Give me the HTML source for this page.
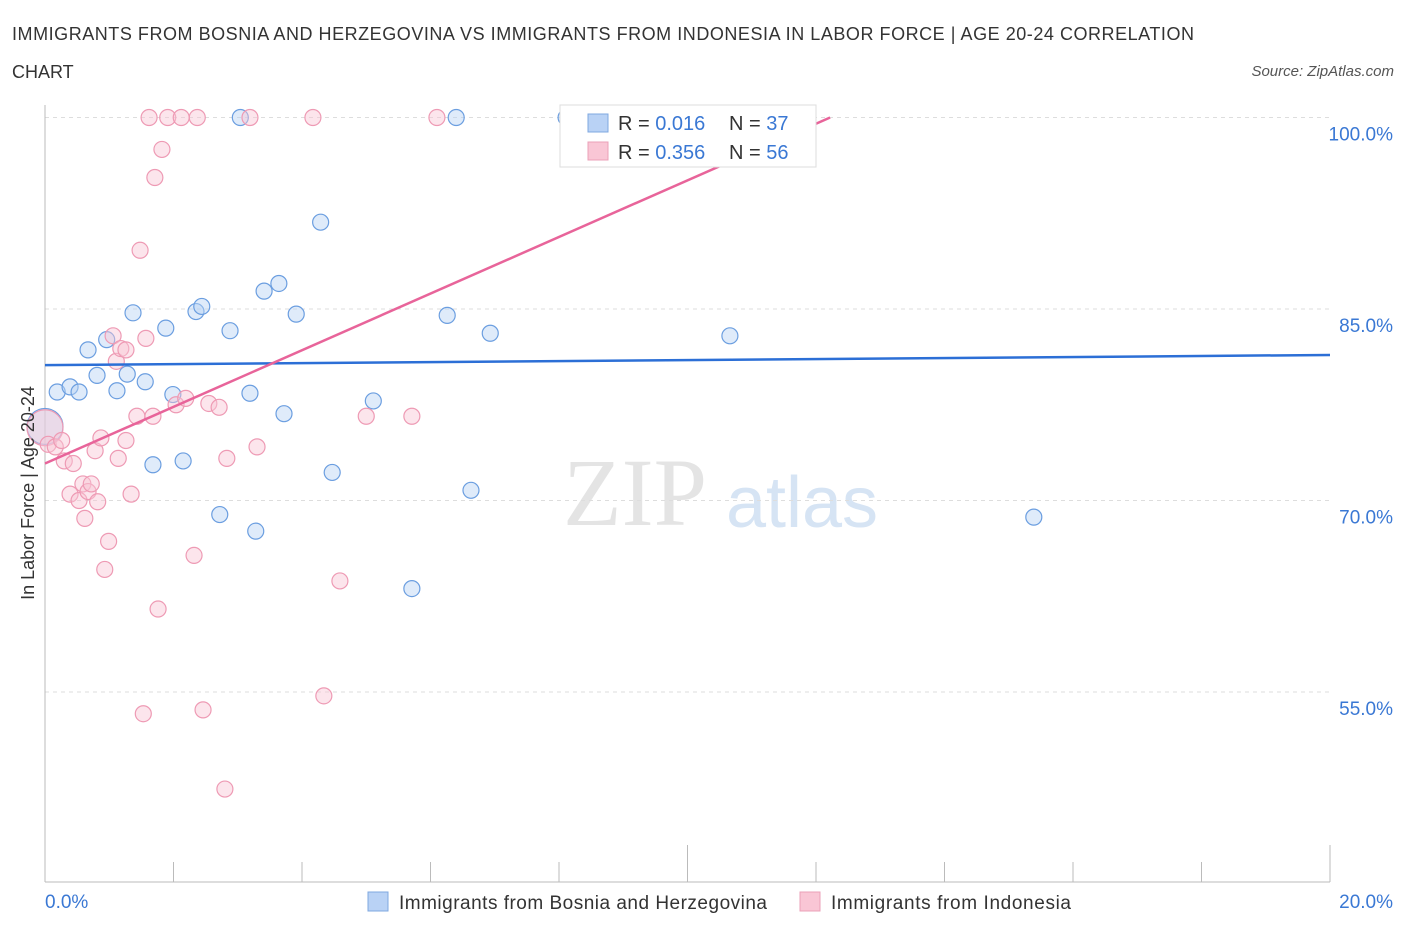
<!DOCTYPE html>
<html><head><meta charset="utf-8"><style>
body{margin:0;background:#fff;font-family:"Liberation Sans",sans-serif;}
</style></head><body>
<svg width="1406" height="930" xmlns="http://www.w3.org/2000/svg">
<text x="12" y="40" font-size="18" fill="#333" textLength="1182" lengthAdjust="spacing">IMMIGRANTS FROM BOSNIA AND HERZEGOVINA VS IMMIGRANTS FROM INDONESIA IN LABOR FORCE | AGE 20-24 CORRELATION</text>
<text x="12" y="78" font-size="18" fill="#333">CHART</text>
<text x="1394" y="76" font-size="15" fill="#555" font-style="italic" text-anchor="end">Source: ZipAtlas.com</text>
<text x="635" y="525" font-size="96" fill="#e4e4e4" font-family="Liberation Serif" text-anchor="middle">ZIP</text>
<text x="802" y="527" font-size="72" fill="#d6e4f4" text-anchor="middle">atlas</text>
<g id="grid"></g><g id="axes"></g><g id="marks"></g>
<text transform="translate(34,493) rotate(-90)" font-size="18" fill="#333" text-anchor="middle">In Labor Force | Age 20-24</text>
<g>
<rect x="560" y="105" width="256" height="62" fill="#fff" stroke="#ddd"/>
<rect x="588" y="114" width="20" height="18" fill="#b9d2f5" stroke="#7fa8e0"/>
<rect x="588" y="142" width="20" height="18" fill="#f9c6d5" stroke="#eba0b8"/>
<text x="618" y="130" font-size="20" fill="#333">R = <tspan fill="#3a78d4">0.016</tspan></text>
<text x="729" y="130" font-size="20" fill="#333">N = <tspan fill="#3a78d4">37</tspan></text>
<text x="618" y="159" font-size="20" fill="#333">R = <tspan fill="#3a78d4">0.356</tspan></text>
<text x="729" y="159" font-size="20" fill="#333">N = <tspan fill="#3a78d4">56</tspan></text>
</g>
<g>
<rect x="368" y="892" width="20" height="19" fill="#b9d2f5" stroke="#7fa8e0"/>
<text x="399" y="909" font-size="19" fill="#333" textLength="368" lengthAdjust="spacing">Immigrants from Bosnia and Herzegovina</text>
<rect x="800" y="892" width="20" height="19" fill="#f9c6d5" stroke="#eba0b8"/>
<text x="831" y="909" font-size="19" fill="#333" textLength="240" lengthAdjust="spacing">Immigrants from Indonesia</text>
</g>
</svg>
<script>
const xTicks=[0,20];
const yTicks=[55,70,85,100];
const blueX=[0.19,0.39,0.53,0.67,0.81,0.96,1.12,1.28,1.37,1.56,1.68,1.88,1.99,2.15,2.35,2.44,2.72,2.88,3.04,3.19,3.28,3.41,3.64,3.72,3.91,4.29,4.47,5.11,5.71,6.26,6.40,6.63,6.93,8.11,10.66,15.39,0.0];
const blueY=[78.5,78.9,78.5,81.8,79.8,82.6,78.6,79.9,84.7,79.3,72.8,83.5,78.3,73.1,84.8,85.2,68.9,83.3,100,78.4,67.6,86.4,87.0,76.8,84.6,91.8,72.2,77.8,63.1,84.5,100,70.8,83.1,100,82.9,68.7,75.8];
const pinkX=[0.0,0.05,0.16,0.26,0.30,0.39,0.44,0.53,0.59,0.62,0.67,0.72,0.78,0.82,0.87,0.93,0.99,1.06,1.11,1.14,1.18,1.26,1.26,1.34,1.43,1.48,1.53,1.57,1.62,1.68,1.71,1.76,1.82,1.91,2.04,2.12,2.19,2.32,2.37,2.46,2.55,2.71,2.80,2.83,3.19,3.30,4.17,4.34,4.59,5.00,5.71,6.10,9.85,10.51];
const pinkY=[75.7,74.4,74.2,74.7,73.1,70.5,72.9,70.0,71.3,68.6,70.7,71.3,73.9,69.9,74.9,64.6,66.8,82.9,80.9,73.3,81.9,74.7,81.8,70.5,76.6,89.6,53.3,82.7,100,76.6,95.3,61.5,97.5,100,77.5,100,78.0,65.7,100,53.6,77.6,77.3,47.4,73.3,100,74.2,100,54.7,63.7,76.6,76.6,100,100,100];
const blueTrend=[80.6,81.4];
const pinkTrend=[72.9,100];
const pinkTrendEndX=12.22;
const NS="http://www.w3.org/2000/svg";
const X=v=>45+v/20*1285, Y=v=>117.5+(100-v)*12.767;
function mk(t,a,p){const e=document.createElementNS(NS,t);for(const k in a)e.setAttribute(k,a[k]);p.appendChild(e);return e;}
const grid=document.getElementById('grid'),axes=document.getElementById('axes'),marks=document.getElementById('marks');
yTicks.forEach(v=>{
 const l=mk('line',{x1:45,x2:1330,y1:Y(v),y2:Y(v),stroke:'#ddd','stroke-dasharray':'4,4'},grid);
 
 
 const t=mk('text',{x:1393,y:Y(v)+23,'font-size':19,fill:'#3a78d4','text-anchor':'end'},axes);t.textContent=v.toFixed(1)+'%';
 
 
});
mk('line',{x1:45,x2:45,y1:105,y2:882,stroke:'#bbb'},axes);
const xa=mk('line',{x1:45,x2:1330,y1:882,y2:882,stroke:'#bbb'},axes);


for(let i=0;i<=10;i++){mk('line',{x1:45+i*128.5,x2:45+i*128.5,y1:882,y2:i%5==0?845:862,stroke:'#bbb'},axes);}
xTicks.forEach((v,i)=>{const t=mk('text',{x:i?1393:45,y:908,'font-size':19,fill:'#3a78d4','text-anchor':i?'end':'start'},axes);t.textContent=v.toFixed(1)+'%';
 
 });
function pts(xs,ys,fill,stroke,name){xs.forEach((x,i)=>{const big=(x===0&&i===xs.length-1&&name==='blue-point')||(x===0&&i===0&&name==='pink-point');
 const c=mk('circle',{cx:X(x),cy:Y(ys[i]),r:big?18:8,fill:fill,'fill-opacity':0.45,stroke:stroke,'stroke-width':1.2},marks);
 
 });}
pts(blueX,blueY,'#b9d2f5','#6b9ee0','blue-point');
pts(pinkX,pinkY,'#f9c6d5','#ee9ab4','pink-point');
const bl=mk('line',{x1:X(0),y1:Y(blueTrend[0]),x2:X(20),y2:Y(blueTrend[1]),stroke:'#2c6fd6','stroke-width':2.5},marks);


const pl=mk('line',{x1:X(0),y1:Y(pinkTrend[0]),x2:X(pinkTrendEndX),y2:Y(pinkTrend[1]),stroke:'#e8649a','stroke-width':2.5},marks);


</script>
</body></html>
